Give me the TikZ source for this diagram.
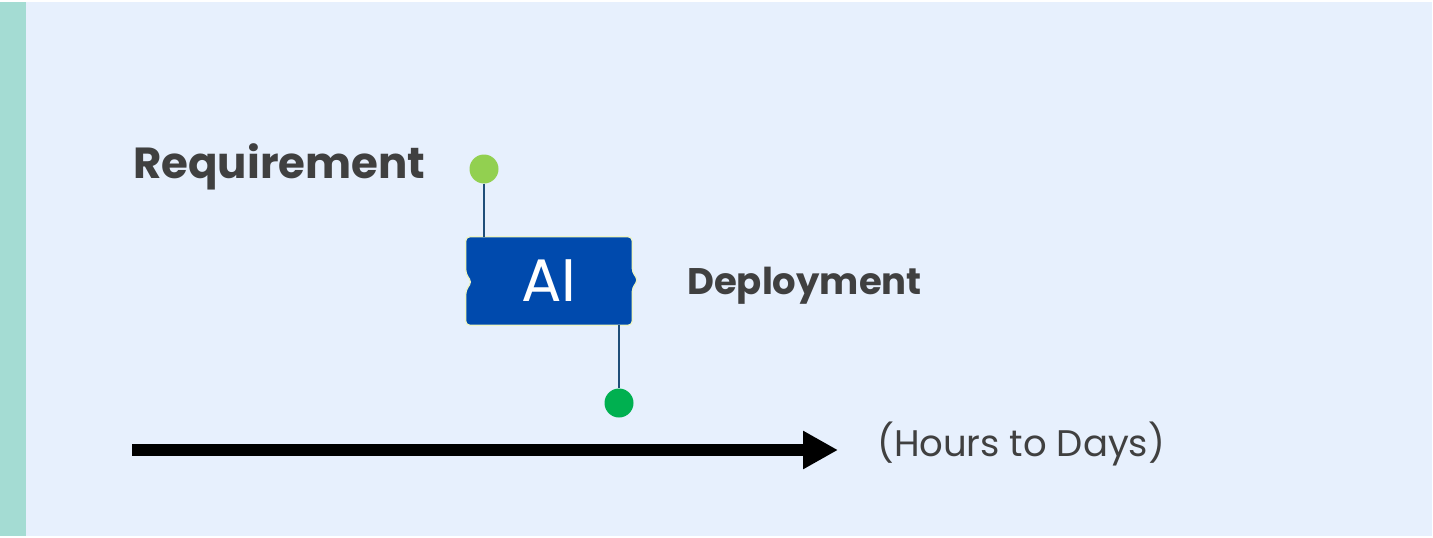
\documentclass[tikz,border=0pt]{standalone}
\usepackage{fontspec}
\setmainfont{Poppins}
\usetikzlibrary{arrows.meta,calc,positioning}
\definecolor{bgblue}{HTML}{E7F0FD}
\definecolor{stripteal}{HTML}{A4DCD3}
\definecolor{boxblue}{HTML}{004AAD}
\definecolor{boxedge}{HTML}{EEF5C4}
\definecolor{linkblue}{HTML}{1F4E79}
\definecolor{startgreen}{HTML}{92D050}
\definecolor{endgreen}{HTML}{00B050}
\definecolor{txtgray}{HTML}{404040}
\tikzset{>=latex}
\tikzset{
  milestone/.style={circle, inner sep=0pt, minimum size=29pt},
  link/.style={draw=linkblue, line width=1.6pt},
  label/.style={anchor=base west, inner sep=0pt, text=txtgray, font=\bfseries},
  timeline/.style={line width=12pt, -{Triangle[length=35pt,width=36pt]}}
}

\begin{document}
\begin{tikzpicture}[x=1pt,y=-1pt]
      \useasboundingbox (0,0) rectangle (1433,538);
      % background
      \fill[white] (0,0) rectangle (1433,538);
      \fill[bgblue] (26,2) rectangle (1432,536);
      \fill[stripteal] (0,2) rectangle (26,536);
      % step box
      \node[inner sep=0pt, minimum width=166pt, minimum height=88pt] (ai) at (549,281) {};
      \filldraw[fill=boxblue, draw=boxedge, line width=1.2pt, rounded corners=4pt]
        (ai.north west) -- (ai.north east) -- ($(ai.east)+(0,-9)$)
        -- ($(ai.east)+(6,-1)$) -- ($(ai.east)+(0,7)$) -- (ai.south east)
        -- (ai.south west) -- ($(ai.west)+(0,9)$) -- ($(ai.west)+(6,1)$)
        -- ($(ai.west)+(0,-7)$) -- cycle;
      \node[text=white, font=\fontsize{60}{72}\selectfont] at (ai) {AI};
      % milestones
      \node[milestone, fill=startgreen] (req) at (484,169) {};
      \node[milestone, fill=endgreen] (dep) at (619,403) {};
      \draw[link] (req.south) -- (req.south |- ai.north);
      \draw[link] (ai.south -| dep.north) -- (dep.north);
      \node[label, font=\bfseries\fontsize{43.5}{50}\selectfont] (reqtext) at (133,178) {Requirement};
      \node[label, font=\bfseries\fontsize{37}{44}\selectfont] (deptext) at (687,294) {Deployment};
      % time axis
      \coordinate (t0) at (132,450);
      \coordinate (t1) at (838,450);
      \draw[timeline] (t0) -- (t1);
      \node[label, font=\fontsize{37}{44}\selectfont] (span) at (877,456) {(Hours to Days)};
\end{tikzpicture}
\end{document}
